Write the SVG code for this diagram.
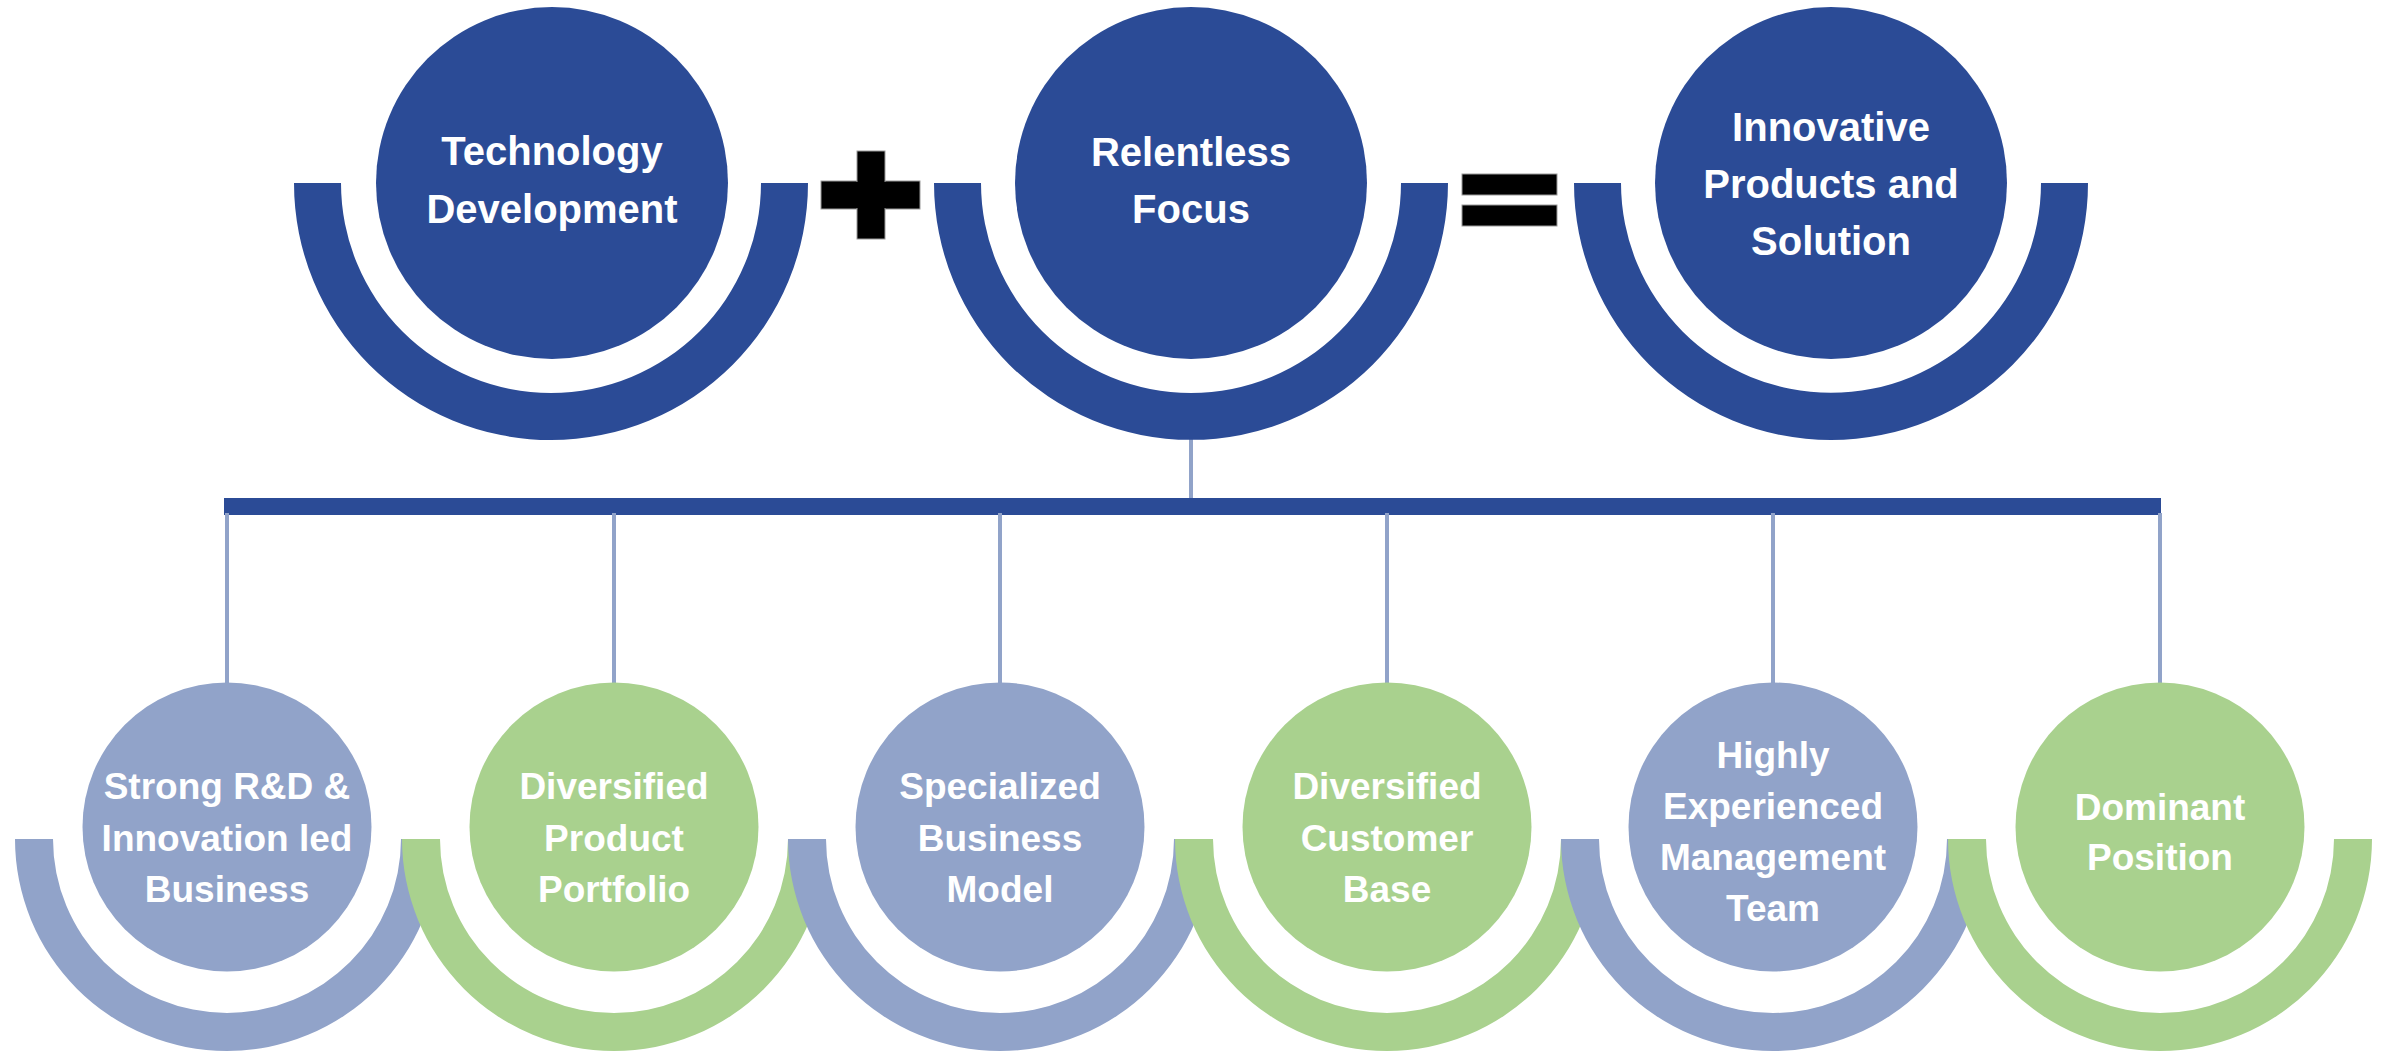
<svg xmlns="http://www.w3.org/2000/svg" width="2384" height="1055" viewBox="0 0 2384 1055">
<style>
.dk{fill:#2B4B96}
.bl{fill:#91A3C9}
.gr{fill:#A9D18E}
.sym{fill:#000000;stroke:#9a9a9a;stroke-width:1}
.conn{stroke:#91A3C9;stroke-width:4;fill:none}
.tt{font-family:"Liberation Sans",Arial,sans-serif;font-weight:bold;font-size:40px;fill:#ffffff;text-anchor:middle}
.bt{font-family:"Liberation Sans",Arial,sans-serif;font-weight:bold;font-size:37px;fill:#ffffff;text-anchor:middle}
</style>
<rect width="2384" height="1055" fill="#ffffff"/>

<g id="connectors">
  <line class="conn" x1="1191" y1="438" x2="1191" y2="500"/>
  <rect x="224" y="498" width="1937" height="17" fill="#2B4B96"/>
  <line class="conn" x1="227" y1="513" x2="227" y2="686"/>
  <line class="conn" x1="614" y1="513" x2="614" y2="686"/>
  <line class="conn" x1="1000" y1="513" x2="1000" y2="686"/>
  <line class="conn" x1="1387" y1="513" x2="1387" y2="686"/>
  <line class="conn" x1="1773" y1="513" x2="1773" y2="686"/>
  <line class="conn" x1="2160" y1="513" x2="2160" y2="686"/>
</g>

<g id="node-technology">
  <path class="dk" d="M294 183 A257 257 0 0 0 808 183 L761 183 A210 210 0 0 1 341 183 Z"/>
  <circle class="dk" cx="552" cy="183" r="176"/>
  <text class="tt" x="552" y="165">Technology</text>
  <text class="tt" x="552" y="223">Development</text>
</g>

<g id="plus-sign">
  <rect class="sym" x="821" y="181" width="99" height="28"/>
  <rect class="sym" x="857" y="151" width="28" height="88"/>
  <rect x="822" y="182" width="97" height="26" fill="#000"/>
</g>

<g id="node-relentless">
  <path class="dk" d="M934 183 A257 257 0 0 0 1448 183 L1401 183 A210 210 0 0 1 981 183 Z"/>
  <circle class="dk" cx="1191" cy="183" r="176"/>
  <text class="tt" x="1191" y="166">Relentless</text>
  <text class="tt" x="1191" y="223">Focus</text>
</g>

<g id="equals-sign">
  <rect class="sym" x="1462" y="174" width="95" height="21"/>
  <rect class="sym" x="1462" y="205" width="95" height="21"/>
</g>

<g id="node-innovative">
  <path class="dk" d="M1574 183 A257 257 0 0 0 2088 183 L2041 183 A210 210 0 0 1 1621 183 Z"/>
  <circle class="dk" cx="1831" cy="183" r="176"/>
  <text class="tt" x="1831" y="141">Innovative</text>
  <text class="tt" x="1831" y="198">Products and</text>
  <text class="tt" x="1831" y="255">Solution</text>
</g>

<g id="node-strong-rd">
  <path class="bl" d="M15 839 A212 212 0 0 0 439 839 L401 839 A174 174 0 0 1 53 839 Z"/>
  <circle class="bl" cx="227" cy="827" r="144.5"/>
  <text class="bt" x="227" y="799">Strong R&amp;D &amp;</text>
  <text class="bt" x="227" y="851">Innovation led</text>
  <text class="bt" x="227" y="902">Business</text>
</g>

<g id="node-product-portfolio">
  <path class="gr" d="M402 839 A212 212 0 0 0 826 839 L788 839 A174 174 0 0 1 440 839 Z"/>
  <circle class="gr" cx="614" cy="827" r="144.5"/>
  <text class="bt" x="614" y="799">Diversified</text>
  <text class="bt" x="614" y="851">Product</text>
  <text class="bt" x="614" y="902">Portfolio</text>
</g>

<g id="node-business-model">
  <path class="bl" d="M788 839 A212 212 0 0 0 1212 839 L1174 839 A174 174 0 0 1 826 839 Z"/>
  <circle class="bl" cx="1000" cy="827" r="144.5"/>
  <text class="bt" x="1000" y="799">Specialized</text>
  <text class="bt" x="1000" y="851">Business</text>
  <text class="bt" x="1000" y="902">Model</text>
</g>

<g id="node-customer-base">
  <path class="gr" d="M1175 839 A212 212 0 0 0 1599 839 L1561 839 A174 174 0 0 1 1213 839 Z"/>
  <circle class="gr" cx="1387" cy="827" r="144.5"/>
  <text class="bt" x="1387" y="799">Diversified</text>
  <text class="bt" x="1387" y="851">Customer</text>
  <text class="bt" x="1387" y="902">Base</text>
</g>

<g id="node-management">
  <path class="bl" d="M1561 839 A212 212 0 0 0 1985 839 L1947 839 A174 174 0 0 1 1599 839 Z"/>
  <circle class="bl" cx="1773" cy="827" r="144.5"/>
  <text class="bt" x="1773" y="768">Highly</text>
  <text class="bt" x="1773" y="819">Experienced</text>
  <text class="bt" x="1773" y="870">Management</text>
  <text class="bt" x="1773" y="921">Team</text>
</g>

<g id="node-dominant">
  <path class="gr" d="M1948 839 A212 212 0 0 0 2372 839 L2334 839 A174 174 0 0 1 1986 839 Z"/>
  <circle class="gr" cx="2160" cy="827" r="144.5"/>
  <text class="bt" x="2160" y="820">Dominant</text>
  <text class="bt" x="2160" y="870">Position</text>
</g>
</svg>
